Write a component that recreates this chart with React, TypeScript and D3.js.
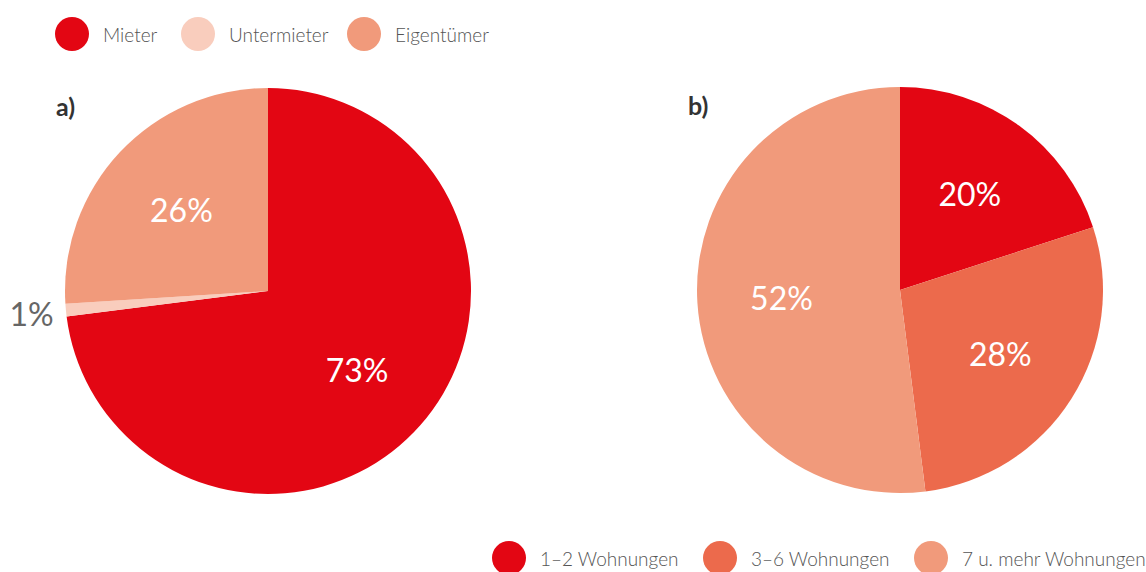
import React from "react";
import * as d3 from "d3";

const categoriesA = ["Mieter", "Untermieter", "Eigentümer"];
const valuesA = [73, 1, 26];
const colorsA = ["#E30613", "#F9CDBD", "#F19A7B"];

const categoriesB = ["1–2 Wohnungen", "3–6 Wohnungen", "7 u. mehr Wohnungen"];
const valuesB = [20, 28, 52];
const colorsB = ["#E30613", "#EC6A4C", "#F19A7B"];

const FONT = "Lato, 'Open Sans', sans-serif";
const R = 203;

function Pie({ cx, cy, values, colors, tag }: { cx: number; cy: number; values: number[]; colors: string[]; tag: string }) {
  const pie = d3.pie<number>().sort(null).value((d) => d);
  const arcs = pie(values);
  const arc = d3.arc<d3.PieArcDatum<number>>().innerRadius(0).outerRadius(R);
  const labelIn = d3.arc<d3.PieArcDatum<number>>().innerRadius(R * 1.17).outerRadius(0);
  const labelOut = d3.arc<d3.PieArcDatum<number>>().innerRadius(R * 1.17).outerRadius(R * 1.17);
  return (
    <g transform={`translate(${cx},${cy})`}>
      <text x={-212} y={-175} fontFamily={FONT} fontSize={25} fontWeight={700} fill="#333">{tag}</text>
      {arcs.map((a, i) => (
        <path key={i} d={arc(a) || ""} fill={colors[i]} />
      ))}
      {arcs.map((a, i) => {
        const outside = a.data < 5;
        const [x, y] = outside ? labelOut.centroid(a) : labelIn.centroid(a);
        return (
          <text key={"t" + i} x={x} y={y} textAnchor="middle" dominantBaseline="central"
            fontFamily={FONT} fontSize={32} fill={outside ? "#666" : "#fff"}>{a.data}%</text>
        );
      })}
    </g>
  );
}

function Legend({ x, y, items, colors, gap }: { x: number; y: number; items: string[]; colors: string[]; gap: number[] }) {
  return (
    <g transform={`translate(${x},${y})`}>
      {items.map((t, i) => (
        <g key={i} transform={`translate(${gap[i]},0)`}>
          <circle cx={0} cy={0} r={17} fill={colors[i]} />
          <text x={31} y={0} dominantBaseline="central" fontFamily={FONT} fontWeight={300} fontSize={19} fill="#555">{t}</text>
        </g>
      ))}
    </g>
  );
}

export default function App() {
  return (
    <svg width={1146} height={572} style={{ position: "absolute", left: 0, top: 0, background: "#fff" }}>
      <Legend x={72} y={34} items={categoriesA} colors={colorsA} gap={[0, 126, 292]} />
      <Pie cx={268} cy={291} values={valuesA} colors={colorsA} tag="a)" />
      <Pie cx={900} cy={290} values={valuesB} colors={colorsB} tag="b)" />
      <Legend x={509} y={558} items={categoriesB} colors={colorsB} gap={[0, 211, 422]} />
    </svg>
  );
}
